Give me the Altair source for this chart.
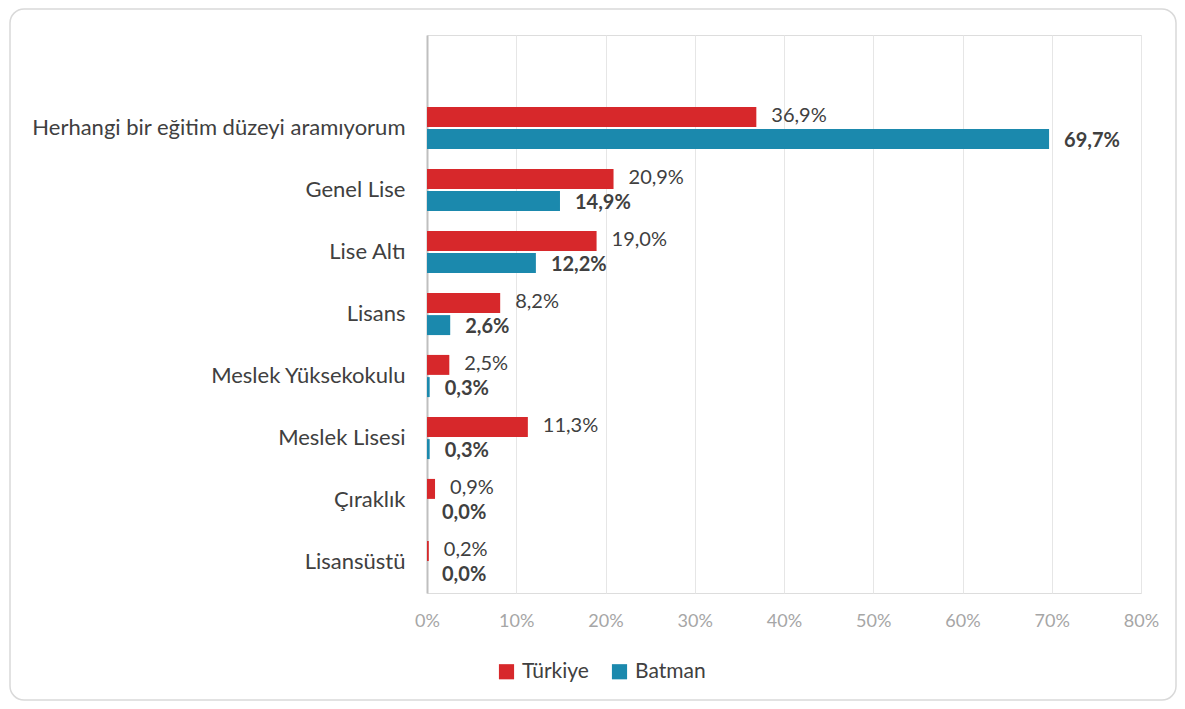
import altair as alt
import pandas as pd

categories = ["Herhangi bir eğitim düzeyi aramıyorum", "Genel Lise", "Lise Altı", "Lisans",
              "Meslek Yüksekokulu", "Meslek Lisesi", "Çıraklık", "Lisansüstü"]
turkiye = [36.9, 20.9, 19.0, 8.2, 2.5, 11.3, 0.9, 0.2]
batman = [69.7, 14.9, 12.2, 2.6, 0.3, 0.3, 0.0, 0.0]
series = ["Türkiye", "Batman"]
colors = ["#D7282B", "#1B89AD"]
x_ticks = [0, 10, 20, 30, 40, 50, 60, 70, 80]

rows = []
for c, t, b in zip(categories, turkiye, batman):
    rows.append({"cat": c, "series": "Türkiye", "v": t})
    rows.append({"cat": c, "series": "Batman", "v": b})
df = pd.DataFrame(rows)

FONT = "Lato"
W, H = 714, 558
y_domain = [" "] + categories

y_enc = alt.Y("cat:N", sort=y_domain,
              scale=alt.Scale(domain=y_domain, paddingInner=0.32, paddingOuter=0.16),
              axis=alt.Axis(title=None, labelFontSize=22, labelColor="#404040", labelFont=FONT,
                            labelPadding=22, labelLimit=500, ticks=False, domain=True,
                            domainColor="#bfbfbf", domainWidth=2, grid=False))
yoff = alt.YOffset("series:N", sort=series, scale=alt.Scale(domain=series, paddingInner=0.1))
x_enc = alt.X("v:Q", scale=alt.Scale(domain=[0, 80], nice=False),
              axis=alt.Axis(title=None, values=x_ticks, labelExpr="datum.value + '%'",
                            labelFontSize=18, labelColor="#a6a6a6", labelFont=FONT,
                            labelPadding=19, labelFlush=False, ticks=False, domain=False,
                            grid=True, gridColor="#e6e6e6", gridWidth=1))

bars = alt.Chart(df).mark_bar().encode(
    x=x_enc, y=y_enc, yOffset=yoff,
    color=alt.Color("series:N", sort=series, scale=alt.Scale(domain=series, range=colors),
                    legend=alt.Legend(title=None, orient="none", legendX=69, legendY=626,
                                      direction="horizontal", symbolType="square",
                                      symbolSize=230, symbolStrokeWidth=0,
                                      labelFontSize=21, labelColor="#404040", labelFont=FONT,
                                      columnPadding=20, labelOffset=5)),
)

lab = "replace(format(datum.v, '.1f'), '.', ',') + '%'"
text_t = alt.Chart(df).transform_filter("datum.series == 'Türkiye'").transform_calculate(
    label=lab).mark_text(align="left", baseline="middle", dx=15, dy=-1, fontSize=20,
                         font=FONT, color="#404040").encode(
    x="v:Q", y=alt.Y("cat:N", sort=y_domain), yOffset=yoff, text="label:N")
text_b = alt.Chart(df).transform_filter("datum.series == 'Batman'").transform_calculate(
    label=lab).mark_text(align="left", baseline="middle", dx=15, dy=2, fontSize=20,
                         font=FONT, fontWeight="bold", color="#404040").encode(
    x="v:Q", y=alt.Y("cat:N", sort=y_domain), yOffset=yoff, text="label:N")

frame = alt.Chart(pd.DataFrame({"a": [0]})).mark_rect(
    fill=None, stroke="#d9d9d9", strokeWidth=1.5, cornerRadius=14, clip=False).encode(
    x=alt.value(-417), x2=alt.value(749), y=alt.value(-26), y2=alt.value(665))

chart = alt.layer(frame, bars, text_t, text_b).properties(
    width=W, height=H,
    autosize=alt.AutoSizeParams(type="none"),
    padding={"left": 419, "top": 27, "right": 36, "bottom": 108},
).configure_view(stroke=None).configure(background="white")

chart.save("out.html", embed_options={"renderer": "svg", "actions": False})
